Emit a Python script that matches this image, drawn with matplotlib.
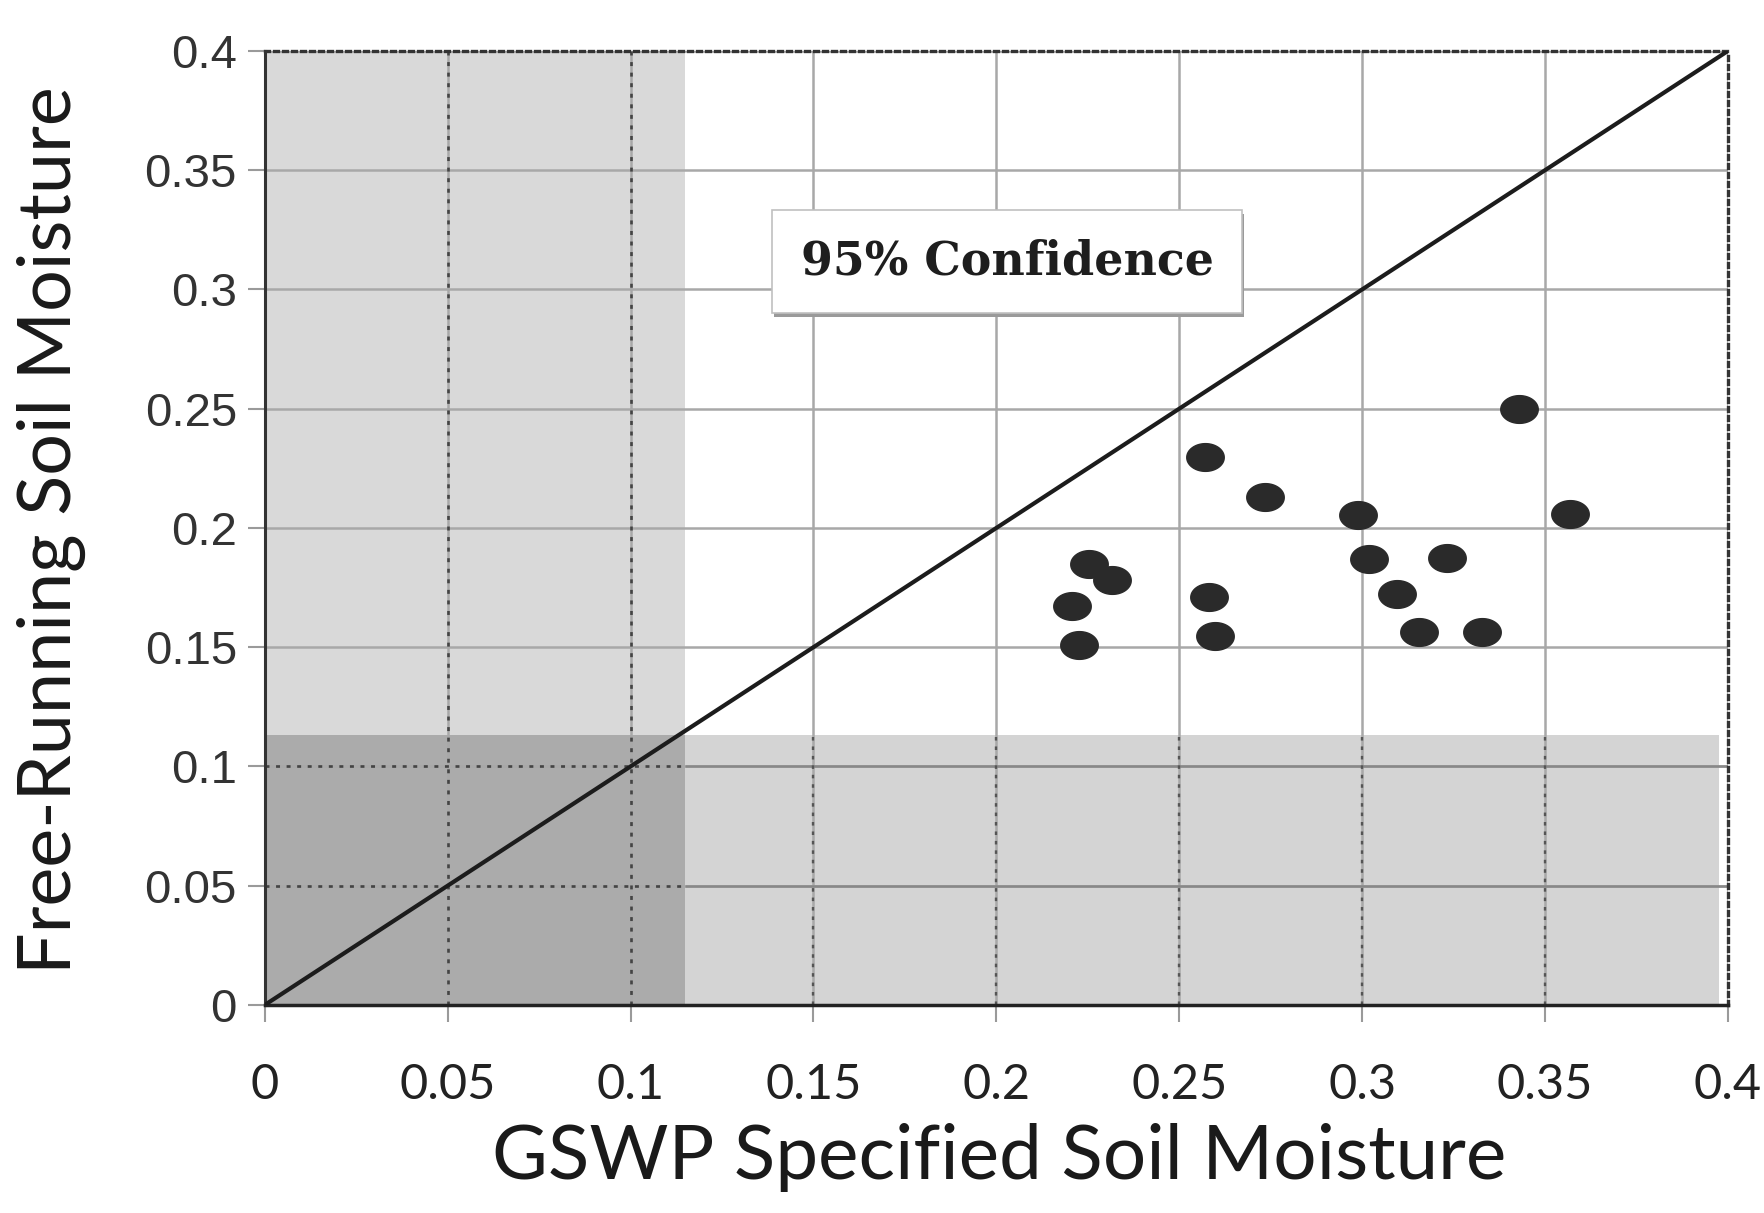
"""
Free-running vs GSWP specified soil moisture scatter, with the low-moisture
bands shaded and a 1:1 line.
"""
import numpy as np
import matplotlib.pyplot as plt
import matplotlib.patheffects as pe
from matplotlib.path import Path

gswp = [0.343, 0.257, 0.2735, 0.2988, 0.3567, 0.302, 0.3233, 0.3094,
        0.3156, 0.3327, 0.2254, 0.2317, 0.2207, 0.2226, 0.2582, 0.2598]
free_running = [0.250, 0.2296, 0.2129, 0.2053, 0.2058, 0.1868, 0.1875, 0.1725,
                0.1563, 0.1563, 0.185, 0.178, 0.1674, 0.151, 0.1711, 0.1547]
x_limit = 0.115   # shaded column: GSWP below this
y_limit = 0.113   # shaded band: free-running below this
ticks = [0, 0.05, 0.1, 0.15, 0.2, 0.25, 0.3, 0.35, 0.4]
tick_labels = ['0', '0.05', '0.1', '0.15', '0.2', '0.25', '0.3', '0.35', '0.4']
note = '95% Confidence'

fig = plt.figure(figsize=(17.65, 12.13), dpi=100)
ax = fig.add_axes([0.150, 0.1715, 0.829, 0.7865])
ax.set_xlim(0, 0.4)
ax.set_ylim(0, 0.4)

# shading (fractions of the axes)
fx = x_limit / 0.4
fy = y_limit / 0.4
ax.axvspan(0, x_limit, ymin=fy, ymax=1, color='#d9d9d9', lw=0, zorder=0)
ax.axhspan(0, y_limit, xmin=fx, xmax=0.994, color='#d4d4d4', lw=0, zorder=0)
ax.axvspan(0, x_limit, ymin=0, ymax=fy, color='#ababab', lw=0, zorder=0)

# grid: solid grey, dotted dark inside the shaded parts
ax.set_xticks(ticks)
ax.set_yticks(ticks)
ax.grid(True, color='#a8a8a8', lw=1.8, zorder=1)
ax.set_axisbelow(True)
for t in ticks[1:-1]:
    if t < x_limit:
        ax.vlines(t, 0, 0.4, colors='#444444', linestyles=(0, (1.5, 2.5)), lw=1.9, zorder=1.5)
        ax.hlines(t, 0, x_limit, colors='#444444', linestyles=(0, (1.5, 2.5)), lw=1.9, zorder=1.5)
        ax.hlines(t, x_limit, 0.4, colors='#888888', lw=1.8, zorder=1.5)
    else:
        ax.vlines(t, 0, y_limit, colors='#555555', linestyles=(0, (1.5, 2.5)), lw=1.7, zorder=1.5)

# 1:1 line
ax.plot([0, 0.4], [0, 0.4], color='#1c1c1c', lw=3.0, zorder=3)

# slightly flattened dots
th = np.linspace(0, 2 * np.pi, 60)
oval = Path(np.column_stack([np.cos(th), 0.74 * np.sin(th)]), closed=True)
ax.plot(gswp, free_running, ls='none', marker=oval, markersize=27,
        color='#2a2a2a', zorder=4, clip_on=False)

t = ax.text(0.203, 0.3117, note, ha='center', va='center',
            family='DejaVu Serif', fontweight='bold', fontsize=33, color='#1e1e1e',
            bbox=dict(boxstyle='square,pad=0.62', fc='white', ec='#c0c0c0', lw=1.2),
            zorder=5)
t.get_bbox_patch().set_path_effects(
    [pe.withSimplePatchShadow(offset=(1, -3), shadow_rgbFace='#9a9a9a', alpha=1)])

# frame
ax.spines['left'].set_color('#333333')
ax.spines['left'].set_linewidth(2.2)
ax.spines['bottom'].set_color('#222222')
ax.spines['bottom'].set_linewidth(2.5)
for side in ['top', 'right']:
    ax.spines[side].set_color('#333333')
    ax.spines[side].set_linewidth(2.4)
    ax.spines[side].set_linestyle((0, (1.2, 1.5)))

ax.set_xticklabels(tick_labels, family='Lato', fontsize=35, color='#222222')
ax.set_yticklabels(tick_labels, family='Liberation Sans', fontsize=34, color='#333333')
ax.tick_params(axis='both', direction='out', length=12, width=1.5, color='#9a9a9a')
ax.tick_params(axis='x', pad=30)
ax.tick_params(axis='y', pad=8)

fig.text(0.566, 0.046, 'GSWP Specified Soil Moisture', ha='center', va='center',
         family='Lato', fontsize=55, color='#1a1a1a')
fig.text(0.029, 0.563, 'Free-Running Soil Moisture', ha='center', va='center',
         rotation=90, family='Lato', fontsize=53, color='#1a1a1a')

fig.savefig('out.png', dpi=100)
